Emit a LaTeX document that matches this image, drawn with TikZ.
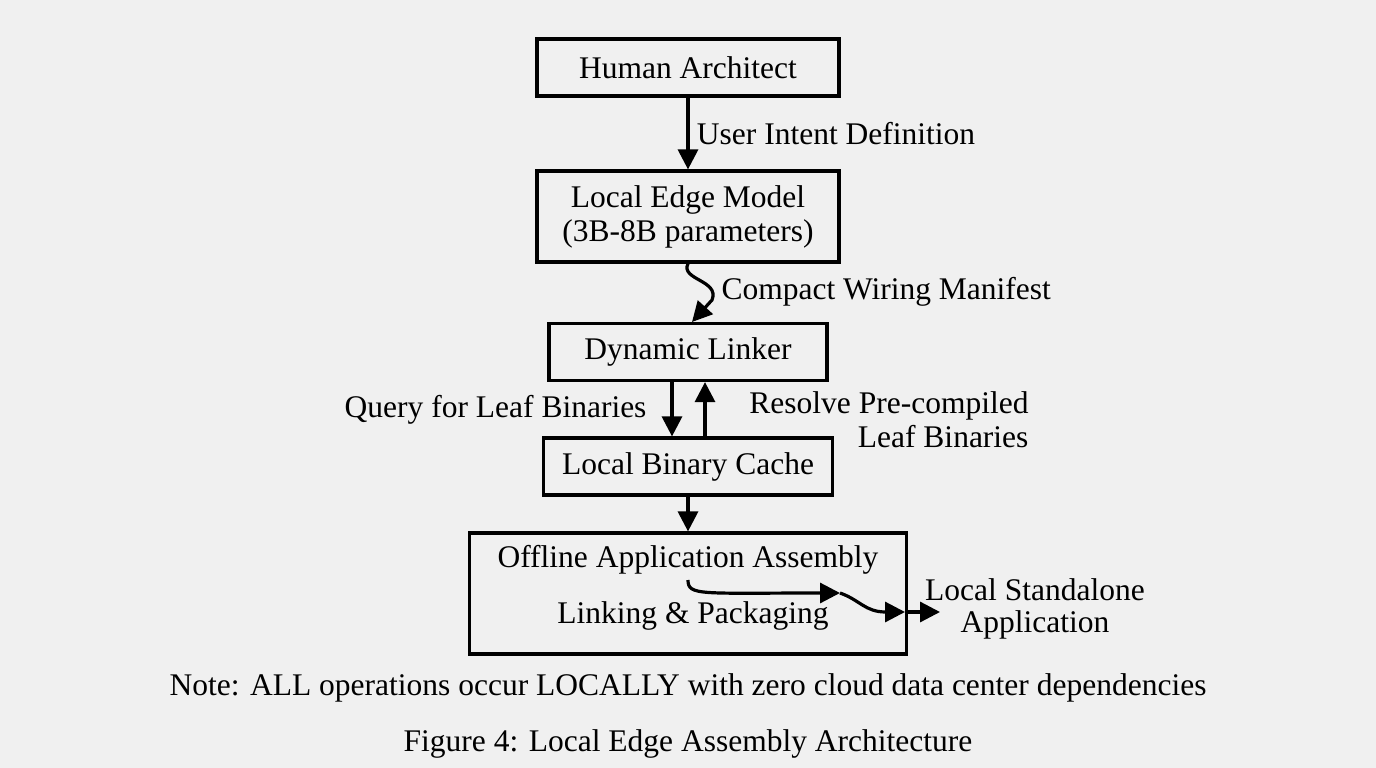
\documentclass[tikz,border=0pt]{standalone}
\usepackage{fontspec}
\setmainfont{Liberation Serif}
\usetikzlibrary{positioning}
\usetikzlibrary{arrows.meta}
\definecolor{bg}{RGB}{240, 240, 240}

\begin{document}
\begin{tikzpicture}[x=1pt, y=-1pt,
  every node/.style={font=\fontsize{31.5}{36}\selectfont},
  box/.style={draw=black, line width=3.2pt, minimum height=57pt, align=center},
  arr/.style={line width=3.2pt, -{Triangle[length=20pt, width=20pt]}}]
\fill [bg] (0,0) rectangle (1376,768);
\node (human) [box, minimum width=302pt] at (688, 67.5) {Human Architect};
\node (model) [box, minimum width=302pt, minimum height=91pt] at (688, 216.5) {Local Edge Model\\[-2pt](3B-8B parameters)};
\node (linker) [box, minimum width=278pt] at (688, 352) {Dynamic Linker};
\node (cache) [box, minimum width=289pt] at (688, 466.5) {Local Binary Cache};
\node (offline) [box, minimum width=437pt, minimum height=121pt] at (688, 593.5) {};
\node (title) at (688, 560) {Offline Application Assembly};
\node (pack) at (693, 616) {Linking \& Packaging};
\coordinate (bend) at (688, 580);
\coordinate (mid) at (840, 593);
\coordinate (edge) at (905, 612);
\coordinate (out) at (940, 612);
\node (app) [align=center] at (1035, 609) {Local Standalone\\[-4pt]Application};
\node (note) at (688, 688) {Note: ALL operations occur LOCALLY with zero cloud data center dependencies};
\node (fig) at (688, 744) {Figure 4: Local Edge Assembly Architecture};
% connectors
\draw [arr] (human) -- node [right=4pt] {User Intent Definition} (model);
\draw [arr] (model.south) .. controls (680, 280) and (720, 280) .. (712, 300) -- (692, 322);
\node (wiring) [anchor=west] at (718, 292) {Compact Wiring Manifest};
\draw [arr] ([xshift=-16pt]linker.south) -- ([xshift=-16pt]cache.north);
\node (query) [anchor=east] at (650, 410) {Query for Leaf Binaries};
\draw [arr] ([xshift=17pt]cache.north) -- ([xshift=17pt]linker.south);
\node (resolve) [align=right, anchor=north east] at (1032, 388) {Resolve Pre-compiled\\[-2pt]Leaf Binaries};
\draw [arr] (cache) -- (offline);
\draw [arr] (bend) .. controls (688, 596) and (700, 593) .. (mid);
\draw [arr] (mid) .. controls (860, 600) and (865, 612) .. (edge);
\draw [arr] (edge) -- (out);
\end{tikzpicture}
\end{document}
